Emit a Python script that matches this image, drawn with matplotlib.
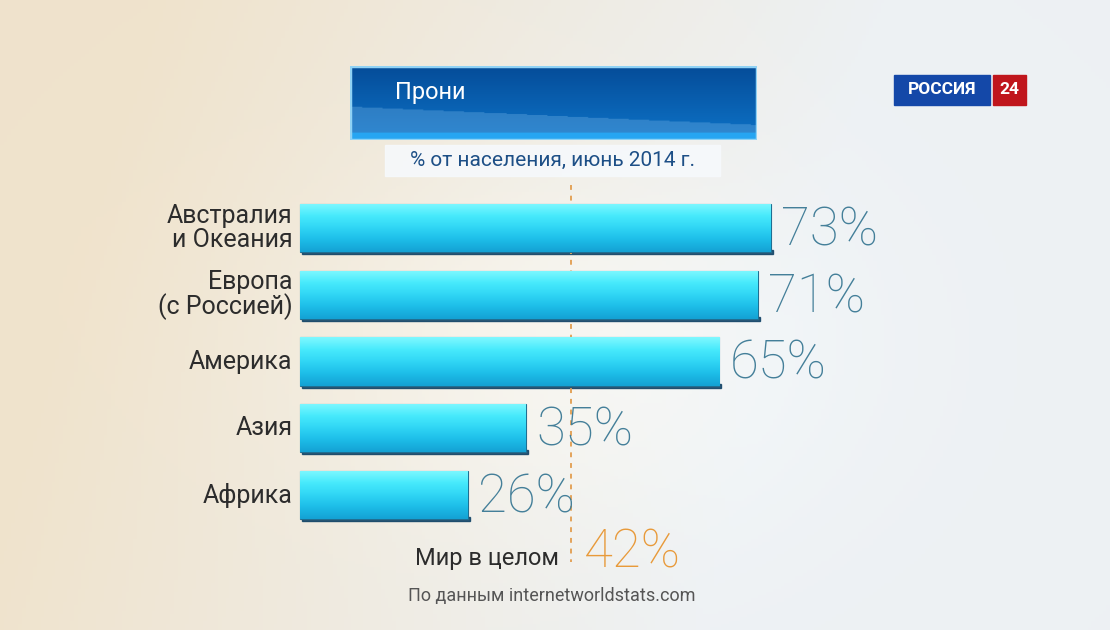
import numpy as np
import matplotlib.pyplot as plt
from matplotlib.patches import Rectangle
from matplotlib.colors import LinearSegmentedColormap

regions = ["Австралия\nи Океания", "Европа\n(с Россией)", "Америка", "Азия", "Африка"]
shares = [73, 71, 65, 35, 26]
world_share = 42
title = "Прони"
subtitle = "% от населения, июнь 2014 г."
world_label = "Мир в целом"
source = "По данным internetworldstats.com"

W, H = 1110, 630
fig = plt.figure(figsize=(W / 100, H / 100), dpi=100)


def fx(px):
    return px / W


def fy(py):
    return 1 - py / H


# background: warm beige on the left, cool white on the right
bg = fig.add_axes([0, 0, 1, 1], zorder=0)
bg.axis("off")
gx = np.linspace(0, 1, 300)
gy = np.linspace(0, 1, 200)
X, Y = np.meshgrid(gx, gy)
left = np.array([0.94, 0.89, 0.80])
right = np.array([0.93, 0.945, 0.955])
t = np.clip(X * 1.5 - 0.2 + 0.25 * Y, 0, 1)[..., None]
img = left * (1 - t) + right * t
img = img + 0.035 * np.exp(-((X - 0.5) ** 2 / 0.06 + (Y - 0.55) ** 2 / 0.1))[..., None]
bg.imshow(np.clip(img, 0, 1), extent=[0, 1, 0, 1], aspect="auto")
bg.set_xlim(0, 1)
bg.set_ylim(0, 1)

# main axes: x in percent, y in category index
ax = fig.add_axes([0, 0, 1, 1], zorder=1)
ax.patch.set_alpha(0)
x0, ppx = 300, 6.45
y0, ppy = 228, 66.75
ax.set_xlim(-x0 / ppx, (W - x0) / ppx)
ax.set_ylim((H - y0) / ppy, -y0 / ppy)
ax.axis("off")

ypos = np.arange(len(regions))
bar_h = 0.72
cmap = LinearSegmentedColormap.from_list(
    "cyan", ["#7ff8ff", "#48eafc", "#30d6f5", "#1dbde8", "#14a2d4"])
grad = np.linspace(0, 1, 64).reshape(-1, 1)

for y, v in zip(ypos, shares):
    # shadow under bar
    ax.add_patch(Rectangle((0.3, y + bar_h / 2 - 0.03), v, 0.06,
                           color="#0c3f63", alpha=0.85, zorder=2))
    bars = ax.barh(y, v, height=bar_h, color="none", edgecolor="#1f6f92",
                   linewidth=0.8, zorder=3)
    p = bars[0]
    im = ax.imshow(grad, cmap=cmap, aspect="auto",
                   extent=[0, v, y + bar_h / 2, y - bar_h / 2], zorder=3)
    im.set_clip_path(p)
    ax.text(v + 1.6, y + 0.04, f"{v}%", fontsize=38, color="#447f99",
            family="Roboto", fontweight="light", va="center", ha="left",
            zorder=4)

for y, name in zip(ypos, regions):
    ax.text(-1.2, y, name, fontsize=18, color="#2c2c2c", family="Roboto",
            ha="right", va="center", linespacing=0.95, zorder=4)

# world average
ax.vlines(world_share, -0.65, 5.0, colors="#e3a35a", linestyles=(0, (2.5, 3)),
          linewidth=1.4, zorder=2)
ax.text(world_share - 1.8, 4.95, world_label, fontsize=17, color="#2c2c2c",
        family="Roboto", ha="right", va="center", zorder=4)
ax.text(world_share + 2.0, 4.87, f"{world_share}%", fontsize=38,
        color="#e89a3a", family="Roboto", fontweight="light",
        ha="left", va="center", zorder=4)
ax.text(world_share - 3.0, 5.51, source, fontsize=13, color="#555555",
        family="Roboto", ha="center", va="center", zorder=4)

# title box
tb = fig.add_axes([fx(350), fy(140), fx(757) - fx(350), fy(66) - fy(140)], zorder=2)
tb.axis("off")
ty = np.linspace(0, 1, 80)
tx = np.linspace(0, 1, 200)
TX, TY = np.meshgrid(tx, ty)
c_top = np.array([0.02, 0.30, 0.60])
c_bot = np.array([0.05, 0.45, 0.78])
band = (TY > 0.55 + 0.25 * TX).astype(float)[..., None]
base = c_top * (1 - TY[..., None]) + c_bot * TY[..., None]
light = np.array([0.45, 0.70, 0.90])
timg = base * (1 - 0.35 * band) + light * 0.35 * band
timg[TY > 0.9] = np.array([0.15, 0.65, 0.95])
tb.imshow(np.clip(timg, 0, 1), extent=[0, 1, 0, 1], aspect="auto", origin="upper")
tb.set_xlim(0, 1)
tb.set_ylim(0, 1)
tb.add_patch(Rectangle((0, 0), 1, 1, fill=False, ec="#8fd2f5", lw=2.5))
fig.text(fx(395), fy(92), title, fontsize=17, color="white", family="Roboto",
         ha="left", va="center", zorder=5)

# subtitle strip
fig.patches.append(Rectangle((fx(385), fy(176)), fx(720) - fx(385), fy(145) - fy(176),
                             transform=fig.transFigure, color="#f6f9fc", alpha=0.9,
                             zorder=2))
fig.text(fx(553), fy(160), subtitle, fontsize=15, color="#1d4f86",
         family="Roboto", ha="center", va="center", zorder=5)

# channel logo
fig.patches.append(Rectangle((fx(894), fy(105)), fx(990) - fx(894), fy(75) - fy(105),
                             transform=fig.transFigure, color="#1448a8", zorder=3))
fig.patches.append(Rectangle((fx(993), fy(105)), fx(1026) - fx(993), fy(75) - fy(105),
                             transform=fig.transFigure, color="#c0161c", zorder=3))
fig.text(fx(942), fy(90), "РОССИЯ", fontsize=12.5, color="white", family="Roboto",
         fontweight="bold", ha="center", va="center", zorder=5)
fig.text(fx(1009.5), fy(90), "24", fontsize=12.5, color="white", family="Roboto",
         fontweight="bold", ha="center", va="center", zorder=5)

fig.savefig("out.png", dpi=100)
